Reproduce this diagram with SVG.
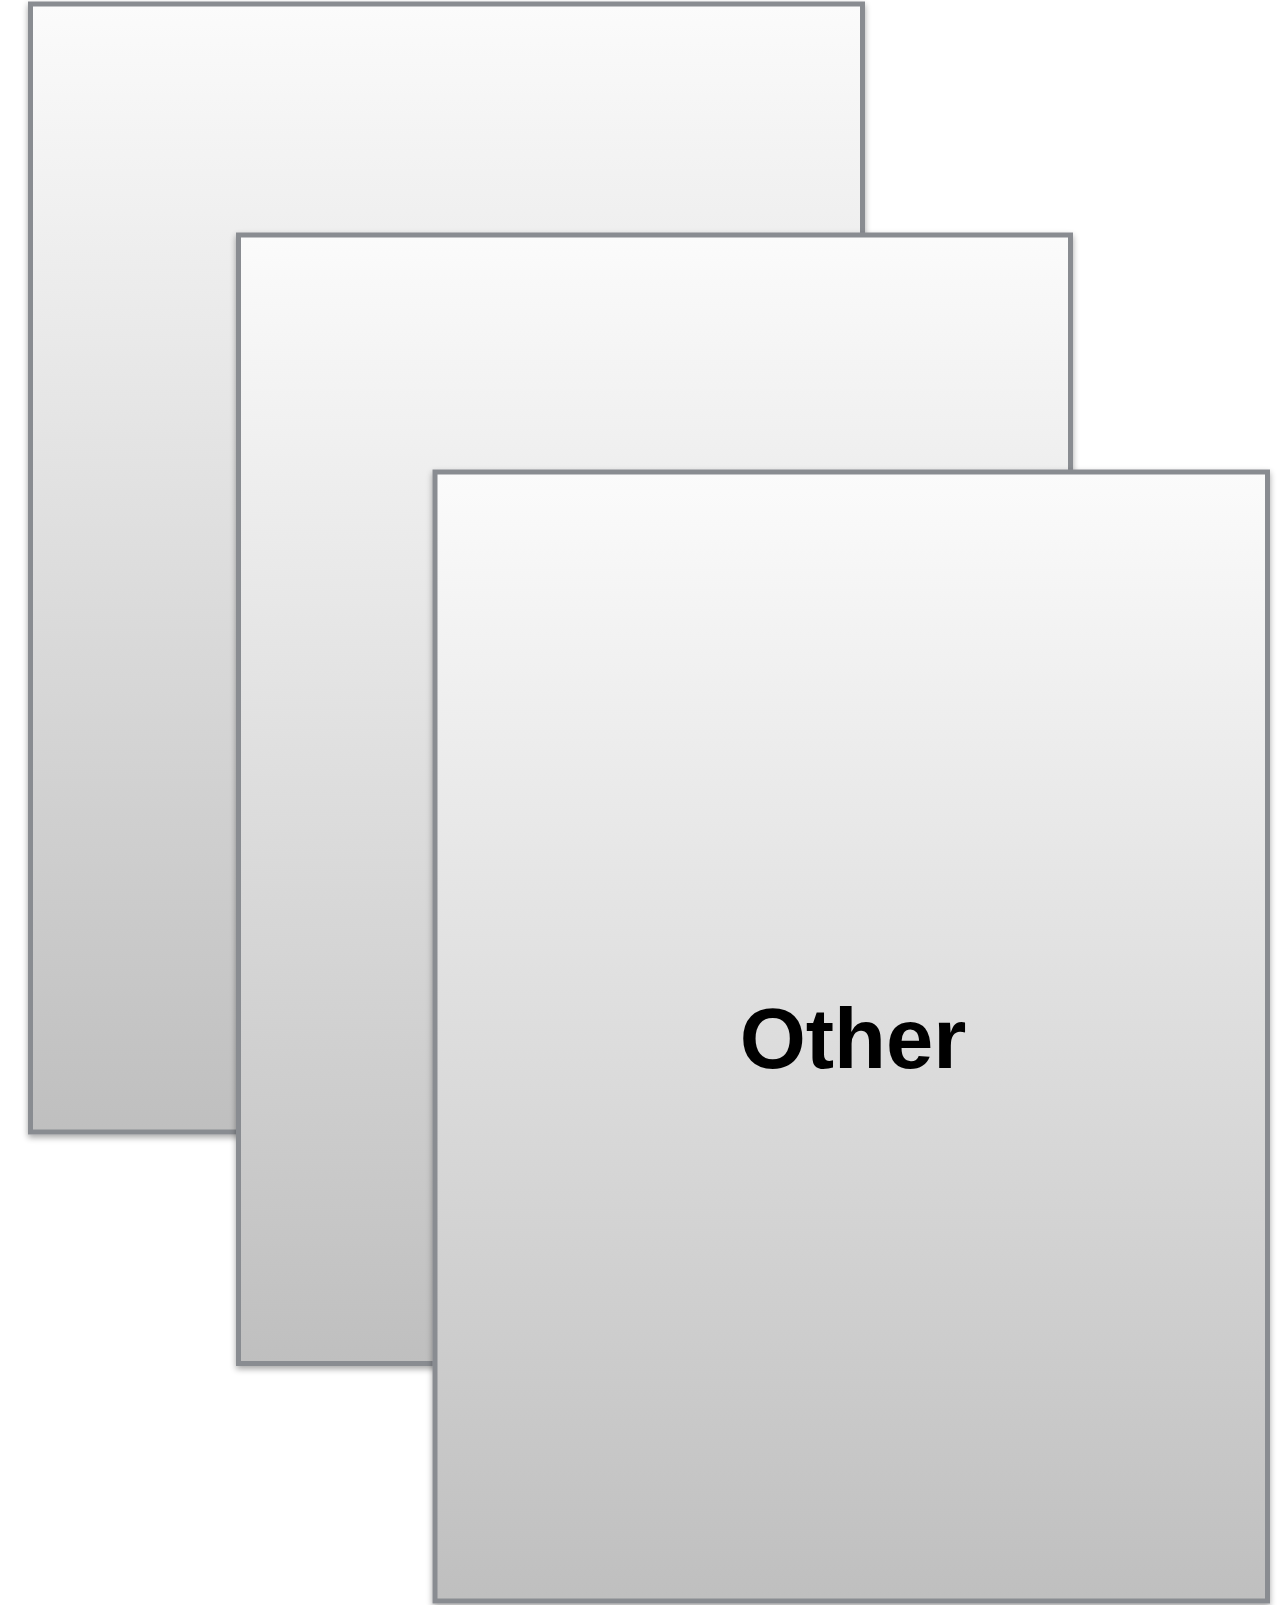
<svg xmlns="http://www.w3.org/2000/svg" width="1281" height="1605" viewBox="0 0 1281 1605">
<defs>
<linearGradient id="g" x1="0" y1="0" x2="0" y2="1">
<stop offset="0" stop-color="#fbfbfb"/>
<stop offset="1" stop-color="#bfbfbf"/>
</linearGradient>
<filter id="sh" x="-5%" y="-5%" width="110%" height="110%">
<feGaussianBlur in="SourceAlpha" stdDeviation="3"/>
<feOffset dx="0" dy="3" result="b"/>
<feComponentTransfer><feFuncA type="linear" slope="0.35"/></feComponentTransfer>
<feMerge><feMergeNode/><feMergeNode in="SourceGraphic"/></feMerge>
</filter>
</defs>
<style>
.card{fill:url(#g);stroke:#898c91;stroke-width:5;filter:url(#sh)}
.lbl{font-family:"Liberation Sans",Arial,sans-serif;font-weight:bold;font-size:85px;fill:#000;text-anchor:middle}
</style>
<g id="card1"><rect class="card" x="30.5" y="4" width="832" height="1128"/></g>
<g id="card2"><rect class="card" x="238.5" y="235" width="832" height="1128.5"/></g>
<g id="card3"><rect class="card" x="435" y="472" width="832.5" height="1129"/>
<text class="lbl" x="853" y="1068">Other</text></g>
<g id="connectors"/>
</svg>
